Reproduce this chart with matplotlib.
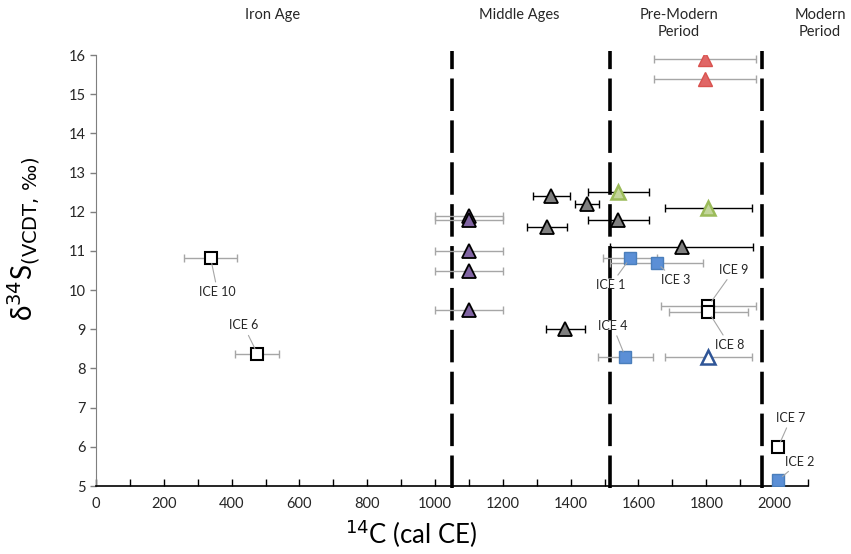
#!/usr/bin/env python3
"""Sulphur isotope values against radiocarbon dates, with period boundaries."""

import matplotlib
matplotlib.use('Agg')
from matplotlib import pyplot as plt
from matplotlib import transforms

plt.rcParams['font.family'] = ['Lato', 'DejaVu Sans']

# ICE samples shown as open black squares
ICE_LABELS = ['ICE 10', 'ICE 6', 'ICE 9', 'ICE 8', 'ICE 7']
ICE_X = [338, 476, 1806, 1806, 2012]
ICE_Y = [10.82, 8.38, 9.60, 9.45, 6.00]
ICE_XERR = [77, 65, 140, 117, 0]

# ICE samples shown as blue squares
BLUE_LABELS = ['ICE 1', 'ICE 3', 'ICE 4', 'ICE 2']
BLUE_X = [1575, 1654, 1561, 2012]
BLUE_Y = [10.81, 10.69, 8.30, 5.15]
BLUE_XERR = [80, 137, 81, 0]

# comparison groups (triangles)
PURPLE_X = [1100, 1100, 1100, 1100, 1100]
PURPLE_Y = [11.90, 11.80, 11.00, 10.50, 9.50]
PURPLE_XERR = [100, 100, 100, 100, 100]

GREY_X = [1343, 1448, 1330, 1541, 1384, 1727]
GREY_Y = [12.40, 12.20, 11.60, 11.80, 9.00, 11.10]
GREY_XERR = [55, 35, 60, 90, 57, 210]

GREEN_X = [1541, 1806]
GREEN_Y = [12.50, 12.10]
GREEN_XERR = [90, 128]

NAVY_X = [1806]
NAVY_Y = [8.30]
NAVY_XERR = [128]

RED_X = [1796, 1796]
RED_Y = [15.90, 15.40]
RED_XERR = [150, 150]

# period boundaries and headers
BOUNDARIES = [1050, 1515, 1965]
PERIODS = ['Iron Age', 'Middle Ages', 'Pre-Modern\nPeriod', 'Modern\nPeriod']
PERIOD_X = [520, 1247, 1718, 2135]

# where the sample labels sit
ICE_TEXT = [(359, 9.95), (435, 9.10), (1882, 10.52), (1868, 8.60), (2050, 6.74)]
BLUE_TEXT = [(1518, 10.13), (1709, 10.26), (1524, 9.09), (2076, 5.62)]


def series(ax, x, y, xerr, marker, size, face, edge, ecolor, lw=1.3):
    ax.errorbar(x, y, xerr=xerr, fmt='none', ecolor=ecolor, elinewidth=1.0,
                capsize=3, capthick=1.0, zorder=3)
    ax.plot(x, y, linestyle='none', marker=marker, markersize=size,
            markerfacecolor=face, markeredgecolor=edge, markeredgewidth=lw,
            zorder=4)


def labels(ax, names, xs, ys, spots):
    for name, x, y, (tx, ty) in zip(names, xs, ys, spots):
        ax.annotate(name, xy=(x, y), xytext=(tx, ty), ha='center', va='center',
                    fontsize=9, color='#262626', zorder=5,
                    arrowprops=dict(arrowstyle='-', color='#a6a6a6', lw=0.8,
                                    shrinkA=1, shrinkB=4))


def main():
    fig = plt.figure(figsize=(8.51, 5.54), dpi=100)
    ax = fig.add_axes([0.1128, 0.1227, 0.8367, 0.778])

    for b in BOUNDARIES:
        ax.plot([b, b], [4.95, 16.1], color='black', lw=2.6, dashes=(9, 2.6),
                zorder=2, clip_on=False)

    grey_bar = '#a6a6a6'
    series(ax, ICE_X, ICE_Y, ICE_XERR, 's', 8, 'white', 'black', grey_bar, 1.5)
    series(ax, BLUE_X, BLUE_Y, BLUE_XERR, 's', 8.5, '#5b8fd6', '#4a7ebb',
           grey_bar, 1.0)
    series(ax, PURPLE_X, PURPLE_Y, PURPLE_XERR, '^', 9.5, '#8064a2', 'black',
           grey_bar)
    series(ax, GREY_X, GREY_Y, GREY_XERR, '^', 9.5, '#7f7f7f', 'black', 'black')
    series(ax, GREEN_X, GREEN_Y, GREEN_XERR, '^', 9.5, '#c3d69b', '#9bbb59',
           'black', 1.8)
    series(ax, NAVY_X, NAVY_Y, NAVY_XERR, '^', 9.5, 'white', '#2f5597',
           grey_bar, 1.8)
    series(ax, RED_X, RED_Y, RED_XERR, '^', 9.5, '#e06666', '#d9534f',
           grey_bar, 1.0)

    labels(ax, ICE_LABELS, ICE_X, ICE_Y, ICE_TEXT)
    labels(ax, BLUE_LABELS, BLUE_X, BLUE_Y, BLUE_TEXT)

    trans = transforms.blended_transform_factory(ax.transData, ax.transAxes)
    for name, x in zip(PERIODS, PERIOD_X):
        ax.text(x, 1.108, name, transform=trans, ha='center', va='top',
                fontsize=10.5, color='#262626', clip_on=False)

    ax.set_xlim(0, 2100)
    ax.set_ylim(5, 16)
    ax.set_xticks(range(0, 2001, 200))
    ax.set_xticks(range(0, 2101, 100), minor=True)
    ax.set_yticks(range(5, 17))
    ax.tick_params(axis='x', which='both', direction='in', length=5,
                   width=1, labelsize=10.5, labelcolor='#262626', pad=8)
    ax.tick_params(axis='y', direction='out', length=4, width=1,
                   labelsize=10.5, labelcolor='#262626', color='#7f7f7f')
    ax.spines['top'].set_visible(False)
    ax.spines['right'].set_visible(False)
    ax.spines['left'].set_color('#7f7f7f')
    ax.spines['bottom'].set_linewidth(1.2)

    ax.set_xlabel('$^{14}$C (cal CE)', fontsize=18.5)
    ax.xaxis.set_label_coords(0.442, -0.074)
    ax.set_ylabel('δ$^{34}$S$_{(\\mathrm{VCDT,}\\,‰)}$', fontsize=20)
    ax.yaxis.set_label_coords(-0.076, 0.575)

    fig.savefig('out.png', dpi=100)


if __name__ == '__main__':
    main()
